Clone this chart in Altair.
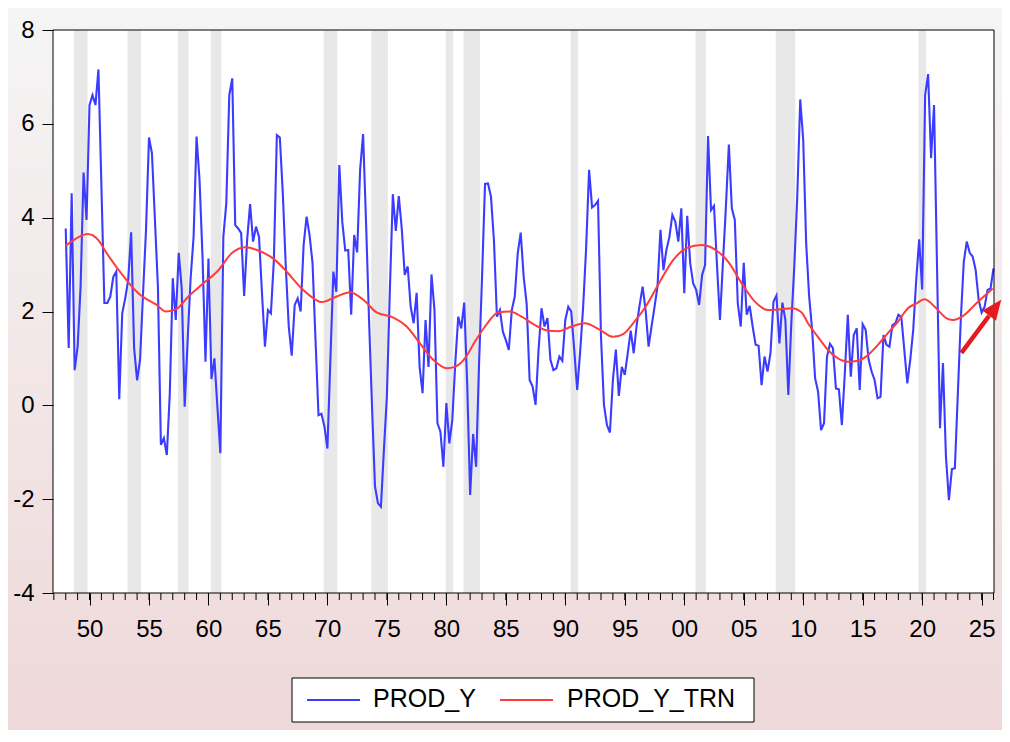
import altair as alt
import pandas as pd

# quarterly year-on-year growth, 1948Q1 onwards (one row per year)
prod_y = [
    3.77, 1.22, 4.52, 0.75,
    1.25, 2.53, 4.96, 3.95,
    6.40, 6.61, 6.40, 7.16,
    4.67, 2.18, 2.18, 2.32,
    2.74, 2.85, 0.13, 1.96,
    2.28, 2.67, 3.69, 1.22,
    0.53, 0.97, 2.39, 3.74,
    5.71, 5.37, 3.95, 2.53,
    -0.84, -0.70, -1.06, 0.26,
    2.71, 1.82, 3.25, 2.49,
    -0.03, 1.39, 2.71, 3.59,
    5.73, 4.80, 3.17, 0.93,
    3.13, 0.56, 1.00, -0.03,
    -1.02, 3.59, 4.31, 6.61,
    6.97, 3.84, 3.77, 3.67,
    2.33, 3.52, 4.29, 3.49,
    3.81, 3.59, 2.39, 1.25,
    2.03, 1.96, 3.10, 5.76,
    5.71, 4.52, 2.96, 1.68,
    1.06, 2.14, 2.28, 2.00,
    3.42, 4.02, 3.63, 3.03,
    1.39, -0.21, -0.18, -0.45,
    -0.92, 0.97, 2.85, 2.42,
    5.12, 3.91, 3.30, 3.31,
    1.93, 3.63, 3.26, 5.02,
    5.78, 3.88, 1.82, -0.03,
    -1.73, -2.09, -2.16, -0.95,
    0.19, 2.46, 4.50, 3.72,
    4.46, 3.77, 2.78, 2.96,
    2.10, 1.75, 2.40, 0.82,
    0.26, 1.82, 0.82, 2.79,
    2.03, -0.38, -0.56, -1.31,
    0.05, -0.81, -0.31, 0.90,
    1.89, 1.64, 2.19, 0.47,
    -1.91, -0.61, -1.31, 0.90,
    2.74, 4.72, 4.73, 4.45,
    3.52, 1.89, 2.03, 1.57,
    1.39, 1.18, 2.03, 2.32,
    3.24, 3.68, 2.74, 2.17,
    0.54, 0.40, 0.01, 1.18,
    2.07, 1.68, 1.86, 0.97,
    0.75, 0.79, 1.04, 0.95,
    1.82, 2.10, 2.00, 1.18,
    0.33, 1.15, 2.10, 3.35,
    5.02, 4.22, 4.27, 4.36,
    1.46, 0.01, -0.42, -0.58,
    0.54, 1.19, 0.20, 0.82,
    0.65, 1.11, 1.59, 1.11,
    1.71, 2.14, 2.53, 2.03,
    1.25, 1.68, 2.10, 2.53,
    3.74, 2.88, 3.31, 3.59,
    4.06, 3.91, 3.49, 4.20,
    2.39, 4.04, 3.03, 2.60,
    2.46, 2.14, 2.78, 2.99,
    5.74, 4.16, 4.25, 3.00,
    1.82, 3.03, 4.23, 5.56,
    4.20, 3.95, 2.17, 1.68,
    3.04, 1.93, 2.12, 1.68,
    1.29, 1.27, 0.43, 1.04,
    0.72, 1.11, 2.21, 2.34,
    1.32, 2.19, 1.82, 0.22,
    1.75, 2.96, 4.45, 6.52,
    5.66, 3.45, 2.32, 1.61,
    0.58, 0.29, -0.53, -0.38,
    1.04, 1.31, 1.22, 0.36,
    0.34, -0.42, 0.69, 1.93,
    0.61, 1.50, 1.64, 0.33,
    1.73, 1.61, 0.97, 0.72,
    0.54, 0.15, 0.18, 1.50,
    1.29, 1.25, 1.71, 1.75,
    1.93, 1.88, 1.18, 0.47,
    0.97, 1.61, 2.67, 3.54,
    2.47, 6.61, 7.06, 5.27,
    6.40, 2.96, -0.49, 0.90,
    -1.09, -2.02, -1.36, -1.34,
    0.25, 1.84, 3.06, 3.49,
    3.25, 3.17, 2.88, 2.25,
    1.98, 2.10, 2.46, 2.49,
    2.92,
]

# smooth trend, read at roughly yearly points
trend_t = [1948.0, 1948.64, 1949.85, 1950.74, 1951.45, 1952.98, 1954.10, 1955.65,
           1956.43, 1957.3, 1958.31, 1959.43, 1960.83, 1961.95, 1963.07, 1964.19,
           1965.59, 1966.71, 1967.84, 1968.96, 1969.52, 1970.78, 1971.90, 1973.02,
           1974.14, 1975.54, 1976.66, 1977.78, 1978.90, 1980.03, 1980.72, 1981.56,
           1982.41, 1983.25, 1984.36, 1985.35, 1986.33, 1987.45, 1988.57, 1989.41,
           1990.53, 1991.65, 1992.91, 1994.03, 1994.87, 1995.71, 1996.84, 1997.96,
           1999.08, 2000.20, 2001.46, 2002.16, 2003.00, 2003.70, 2004.83, 2005.94,
           2007.06, 2008.19, 2009.03, 2009.87, 2010.40, 2011.24, 2012.08, 2012.92,
           2013.76, 2014.60, 2015.44, 2016.28, 2017.12, 2017.96, 2018.80, 2019.50,
           2020.20, 2021.18, 2022.02, 2022.58, 2023.42, 2024.54, 2025.93]
trend_v = [3.40, 3.52, 3.65, 3.52, 3.24, 2.71, 2.39, 2.14,
           2.00, 2.05, 2.32, 2.57, 2.88, 3.24, 3.37, 3.30,
           3.10, 2.81, 2.49, 2.26, 2.20, 2.32, 2.41, 2.25,
           1.98, 1.87, 1.68, 1.32, 0.97, 0.79, 0.82, 1.00,
           1.36, 1.68, 1.98, 2.00, 1.89, 1.71, 1.59, 1.58,
           1.68, 1.75, 1.61, 1.46, 1.52, 1.75, 2.14, 2.64,
           3.10, 3.35, 3.42, 3.38, 3.24, 3.06, 2.60, 2.21,
           2.03, 2.05, 2.07, 1.98, 1.75, 1.46, 1.18, 1.00,
           0.93, 0.95, 1.07, 1.29, 1.54, 1.78, 2.07, 2.17,
           2.26, 2.07, 1.86, 1.82, 1.90, 2.17, 2.49]

# recession quarters (peak to trough)
rec_start = [1948.75, 1953.25, 1957.5, 1960.25, 1969.75, 1973.75,
             1980.0, 1981.5, 1990.5, 2001.0, 2007.75, 2019.75]
rec_end = [1949.75, 1954.25, 1958.25, 1961.0, 1970.75, 1975.0,
           1980.5, 1982.75, 1991.0, 2001.75, 2009.25, 2020.25]

series_names = ["PROD_Y", "PROD_Y_TRN"]
series_colors = ["#3c3cff", "#ff3b3b"]

# annotation arrow (tail, head base, head centre)
arrow_x = [2023.3, 2025.63]
arrow_y = [1.12, 1.91]
head_x = [2026.14]
head_y = [2.08]

W, H = 941, 563
FONT = "Liberation Sans"

df_y = pd.DataFrame({"t": [1948 + i / 4 for i in range(len(prod_y))],
                     "v": prod_y, "series": series_names[0]})
df_trn = pd.DataFrame({"t": trend_t, "v": trend_v, "series": series_names[1]})
df_rec = pd.DataFrame({"start": [s - 0.06 for s in rec_start],
                       "end": [e + 0.08 for e in rec_end]})
df_ticks = pd.DataFrame({"yr": list(range(1947, 2027))})
df_arrow = pd.DataFrame({"x": [arrow_x[0]], "y": [arrow_y[0]],
                         "x2": [arrow_x[1]], "y2": [arrow_y[1]]})
df_head = pd.DataFrame({"x": head_x, "y": head_y})
one = pd.DataFrame({"k": [0]})

x_scale = alt.Scale(domain=[1946.93, 2026.04], nice=False, zero=False)
y_scale = alt.Scale(domain=[-4, 8], nice=False, zero=False)

x_axis = alt.Axis(values=list(range(1950, 2030, 5)),
                  labelExpr="substring(toString(100 + datum.value % 100), 1)",
                  tickSize=12, tickColor="black", domain=False, grid=False,
                  labelFont=FONT, labelFontSize=24, labelColor="black",
                  labelPadding=12, labelFlush=False, labelOverlap=False,
                  title=None, zindex=1)
y_axis = alt.Axis(values=[-4, -2, 0, 2, 4, 6, 8],
                  labelExpr="toString(datum.value)",
                  tickSize=11, tickColor="black", domain=False, grid=False,
                  labelFont=FONT, labelFontSize=24, labelColor="black",
                  labelPadding=8, labelFlush=False, title=None, zindex=1)

color = alt.Color("series:N", scale=alt.Scale(domain=series_names, range=series_colors),
                  legend=None)

bg = alt.Chart(one).mark_rect(
    color=alt.LinearGradient(
        gradient="linear", x1=0, x2=0, y1=0, y2=1,
        stops=[alt.GradientStop(offset=0, color="#f5f5f5"),
               alt.GradientStop(offset=1, color="#efd8d9")])
).encode(x=alt.value(-45), x2=alt.value(W + 8), y=alt.value(-22), y2=alt.value(H + 141))

plot_bg = alt.Chart(one).mark_rect(color="white").encode(
    x=alt.value(0), x2=alt.value(W), y=alt.value(0), y2=alt.value(H))

shade = alt.Chart(df_rec).mark_rect(color="#e8e8e8").encode(
    x=alt.X("start:Q", scale=x_scale, axis=x_axis), x2="end:Q",
    y=alt.value(0), y2=alt.value(H))

minor = alt.Chart(df_ticks).mark_rule(color="black", strokeWidth=1).encode(
    x=alt.X("yr:Q", scale=x_scale, axis=x_axis), y=alt.value(H), y2=alt.value(H + 7))

line_y = alt.Chart(df_y).mark_line(strokeWidth=2.1).encode(
    x=alt.X("t:Q", scale=x_scale, axis=x_axis),
    y=alt.Y("v:Q", scale=y_scale, axis=y_axis),
    color=color)

line_trn = alt.Chart(df_trn).mark_line(strokeWidth=2, interpolate="monotone").encode(
    x=alt.X("t:Q", scale=x_scale, axis=x_axis),
    y=alt.Y("v:Q", scale=y_scale, axis=y_axis),
    color=color)

frame = alt.Chart(one).mark_rect(filled=False, stroke="black", strokeWidth=1).encode(
    x=alt.value(0), x2=alt.value(W), y=alt.value(0), y2=alt.value(H))

shaft = alt.Chart(df_arrow).mark_rule(color="#e41a1c", strokeWidth=4.5).encode(
    x=alt.X("x:Q", scale=x_scale, axis=x_axis), x2="x2:Q",
    y=alt.Y("y:Q", scale=y_scale, axis=y_axis), y2="y2:Q")

head = alt.Chart(df_head).mark_point(
    shape="M0,-1L0.85,1L-0.85,1Z", filled=True, size=400, angle=37,
    color="#e41a1c", opacity=1
).encode(x=alt.X("x:Q", scale=x_scale, axis=x_axis),
         y=alt.Y("y:Q", scale=y_scale, axis=y_axis))

# legend box drawn below the plot
LEG_X0, LEG_X1, LEG_Y0, LEG_Y1 = 239, 701, 648, 692
LEG_SYM_X = [254, 447]
LEG_SYM_LEN = 53
LEG_TXT_X = [320, 514]
LEG_MID = 670

legend_parts = [alt.Chart(one).mark_rect(fill="white", stroke="black", strokeWidth=1).encode(
    x=alt.value(LEG_X0), x2=alt.value(LEG_X1), y=alt.value(LEG_Y0), y2=alt.value(LEG_Y1))]
for i, name in enumerate(series_names):
    legend_parts.append(
        alt.Chart(one).mark_rule(color=series_colors[i], strokeWidth=2).encode(
            x=alt.value(LEG_SYM_X[i]), x2=alt.value(LEG_SYM_X[i] + LEG_SYM_LEN),
            y=alt.value(LEG_MID)))
    legend_parts.append(
        alt.Chart(pd.DataFrame({"label": [name]})).mark_text(
            align="left", baseline="middle", font=FONT, fontSize=25, color="black"
        ).encode(x=alt.value(LEG_TXT_X[i]), y=alt.value(LEG_MID - 1), text="label:N"))

chart = alt.layer(bg, plot_bg, shade, minor, line_y, line_trn, frame, shaft, head,
                  *legend_parts).properties(
    width=W, height=H,
    padding={"left": 45, "top": 22, "right": 8, "bottom": 137},
    autosize=alt.AutoSizeParams(type="none"),
).configure_view(stroke=None)

chart.save("out.html", embed_options={"renderer": "svg", "actions": False})
